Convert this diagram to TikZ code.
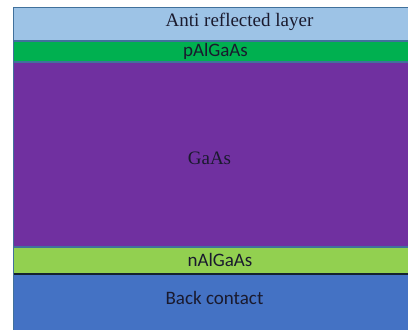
\documentclass[tikz,border=0pt]{standalone}
\usepackage{fontspec}
\setmainfont{Liberation Serif}
\newfontfamily\calfont{Carlito}
\definecolor{arblue}{HTML}{9DC3E6}
\definecolor{pgreen}{HTML}{00B050}
\definecolor{gaaspurple}{HTML}{7030A0}
\definecolor{ngreen}{HTML}{92D050}
\definecolor{backblue}{HTML}{4472C4}
\definecolor{edge}{HTML}{41719C}
\definecolor{txt}{HTML}{1A1A2E}
\begin{document}
\begin{tikzpicture}[x=1pt,y=-1pt,
  layer/.style={draw=edge,line width=1.2pt},
  serifl/.style={font=\fontsize{19}{22}\selectfont,text=txt,inner sep=0pt},
  sansl/.style={font=\calfont\fontsize{19}{22}\selectfont,text=txt,inner sep=0pt}]
\useasboundingbox (0,0) rectangle (408,330);
% layer stack, top to bottom
\filldraw[layer,fill=backblue] (13.5,274) rectangle (420,340);
\filldraw[layer,fill=ngreen] (13.5,247) rectangle (420,274);
\filldraw[layer,fill=gaaspurple] (13.5,62) rectangle (420,247);
\filldraw[layer,fill=pgreen] (13.5,41) rectangle (420,62);
\filldraw[layer,fill=arblue] (13.5,7.5) rectangle (420,41);
\draw[draw=black!70!edge,line width=1.2pt] (13.5,274) -- (420,274);
% labels
\node[serifl] (ar) at (239.5,22) {Anti reflected layer};
\node[sansl] (p) at (215.5,51.5) {pAlGaAs};
\node[serifl] (gaas) at (209.5,158) {GaAs};
\node[sansl] (n) at (220,259.5) {nAlGaAs};
\node[sansl] (bc) at (214.5,297.5) {Back contact};
\end{tikzpicture}
\end{document}
